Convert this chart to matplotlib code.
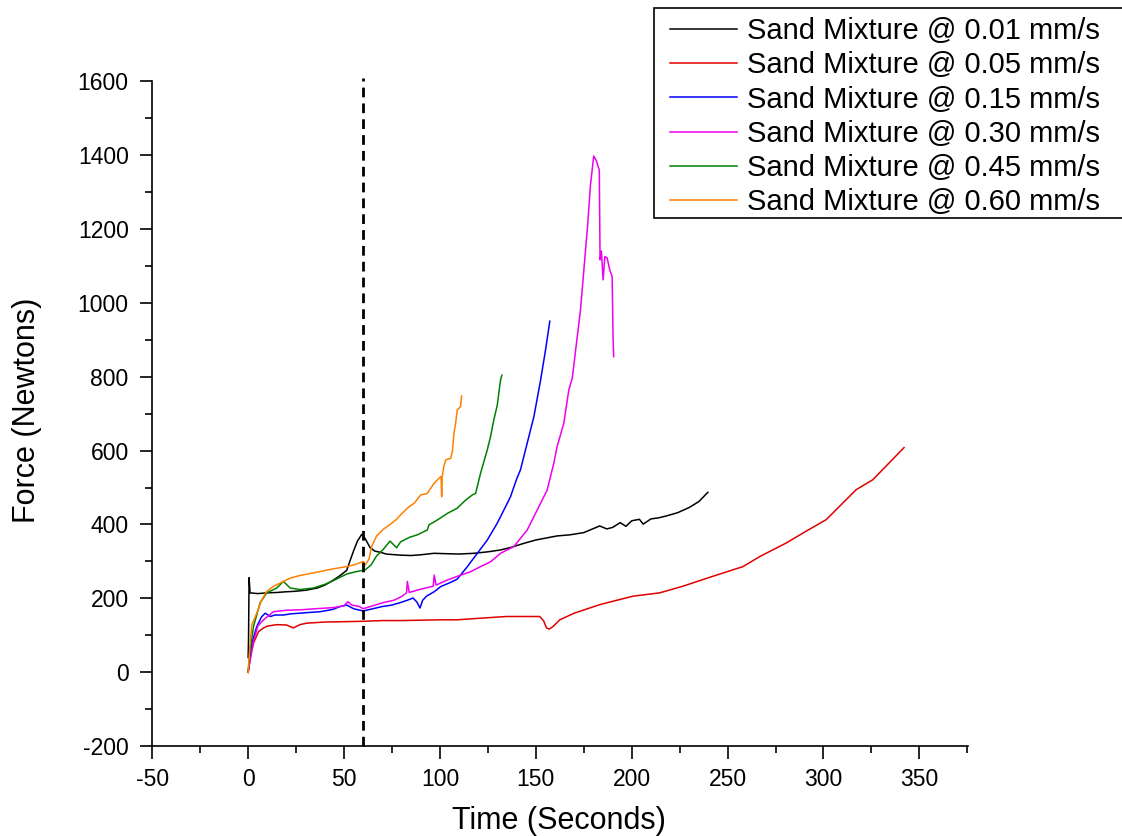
import matplotlib
matplotlib.use("Agg")
import matplotlib.pyplot as plt
from matplotlib.ticker import MultipleLocator
from matplotlib.patches import Rectangle

plt.rcParams['font.family'] = ['Liberation Sans', 'DejaVu Sans']
plt.rcParams['axes.unicode_minus'] = False

labels = ["Sand Mixture @ 0.01 mm/s", "Sand Mixture @ 0.05 mm/s", "Sand Mixture @ 0.15 mm/s",
          "Sand Mixture @ 0.30 mm/s", "Sand Mixture @ 0.45 mm/s", "Sand Mixture @ 0.60 mm/s"]
colors = ['#000000', '#e00000', '#0000ff', '#ee00ee', '#008000', '#ff8000']

t_001 = [0, 0.2, 0.5, 1.0, 5, 10, 15, 20, 24, 30, 36, 40, 44, 48, 51.4, 53, 55, 57, 59.2, 61, 63.5, 66, 68.8, 72,
         79.5, 85, 90, 96.9, 103, 110, 117.7, 125, 131.6, 137, 143.8, 150, 155, 161.1, 167.8, 175, 183.3, 187, 190,
         194, 197, 200, 204, 206, 210, 214, 218, 224, 230, 235, 239.7]
f_001 = [40, 90, 256, 215, 213, 215, 216, 218, 219, 222, 228, 236, 248, 262, 276, 300, 329, 355, 373, 362, 338, 328,
         325, 320, 317, 316, 318, 322, 321, 320, 322, 326, 331, 338, 349, 358, 363, 369, 372, 378, 396, 388, 392, 405,
         395, 410, 414, 401, 415, 418, 423, 432, 446, 462, 487]

t_005 = [0, 1, 2.8, 5.4, 8, 10, 14.9, 20, 23.6, 27, 30.6, 40, 50, 60, 70, 80, 90, 100, 108.7, 120, 134.7, 145, 152,
         154, 155.6, 157, 159, 162.5, 170, 183.3, 190, 200.7, 214.6, 226.7, 242.4, 258, 266.7, 280.6, 291, 301.4,
         311.8, 317, 325.7, 336, 342]
f_005 = [0, 40, 79, 110, 120, 125, 129, 128, 120, 129, 133, 136, 137, 138, 140, 140, 141, 142, 142, 146, 151, 151, 151,
         140, 120, 117, 124, 142, 160, 183, 192, 206, 215, 233, 260, 286, 313, 350, 382, 413, 467, 494, 521, 576, 608]

t_015 = [0, 2, 4.5, 7, 8.9, 11.5, 14, 18.4, 22, 27, 32, 37.5, 44, 48, 51.4, 55, 60, 65, 70, 75, 79, 83, 86, 88, 89.6,
         91, 93, 97, 100.4, 105, 109, 114.3, 119.5, 124.7, 129.5, 131.6, 136.8, 140, 142, 145.5, 149, 152.5, 155,
         157.3]
f_015 = [0, 80, 124, 150, 160, 151, 155, 155, 158, 160, 162, 164, 170, 178, 182, 172, 166, 172, 178, 182, 188, 195, 201,
         190, 174, 195, 206, 218, 232, 242, 252, 286, 322, 358, 400, 421, 475, 523, 548, 620, 692, 791, 870, 950]

t_030 = [0, 2.8, 5, 8, 13.2, 20, 27, 35, 44.4, 50, 52, 54, 58, 60, 65, 70, 76, 80, 82.6, 83, 84, 90, 96.5, 97, 98, 104,
         110.8, 115.9, 121.2, 126.4, 131.6, 138.5, 145.5, 150.7, 155.9, 159.4, 161.1, 164.6, 167.2, 169, 173.3,
         177.1, 178.5, 180.2, 181.5, 183.1, 183.5, 184.2, 185.1, 186, 187.2, 188.5, 189.5, 189.8, 190.3, 190.6]
f_030 = [0, 83, 125, 142, 164, 168, 169, 172, 175, 180, 191, 182, 178, 172, 180, 188, 195, 205, 215, 246, 216, 225, 233,
         263, 236, 250, 263, 272, 286, 299, 322, 340, 385, 439, 493, 566, 611, 674, 764, 796, 981, 1215, 1319, 1397,
         1385, 1359, 1116, 1140, 1062, 1125, 1121, 1090, 1075, 1071, 900, 854]

t_045 = [0, 1, 2.8, 6.25, 9.7, 14.9, 18.4, 21.9, 27, 34, 40, 44.4, 51.4, 56, 61, 64, 67, 70, 74, 77.4, 79.5, 84, 88.2,
         93.4, 94.3, 98.6, 103.9, 109, 113.4, 116.9, 118.6, 121.2, 124.7, 126.4, 128.1, 129.9, 131.6, 132.3]
f_045 = [0, 60, 124, 188, 215, 228, 246, 228, 224, 228, 238, 248, 266, 272, 277, 290, 315, 330, 355, 337, 353, 365,
         372, 385, 399, 412, 430, 444, 466, 480, 484, 539, 602, 638, 683, 723, 791, 804]

t_060 = [0, 1, 2, 4.5, 7, 9.7, 13, 18.4, 22, 27, 35, 44.4, 51.4, 56, 60, 61, 63, 64.4, 67, 70.5, 74, 77.4, 79.5, 83,
         84.4, 86.5, 90, 93.4, 96.9, 99.5, 100.6, 100.9, 101.2, 102, 103, 105.6, 106.5, 107.3, 108.2, 109, 110.8,
         111.3]
f_060 = [0, 80, 130, 160, 195, 219, 232, 246, 255, 262, 270, 280, 286, 292, 300, 290, 306, 340, 369, 387, 400, 414, 426,
         444, 450, 457, 480, 484, 511, 525, 530, 475, 530, 556, 575, 579, 597, 647, 674, 710, 719, 748]

series_t = [t_001, t_005, t_015, t_030, t_045, t_060]
series_f = [f_001, f_005, f_015, f_030, f_045, f_060]

marker_time = 60

W, H = 1122, 836
fig = plt.figure(figsize=(W / 100, H / 100), dpi=100)
ax = fig.add_axes([0.1357, 0.1074, 0.7273, 0.7957])

for t, f, c, lab in zip(series_t, series_f, colors, labels):
    ax.plot(t, f, color=c, lw=1.1, label=lab)

ax.axvline(marker_time, ymin=0, ymax=1.005, clip_on=False, color='black', lw=2.0, linestyle=(0, (3.5, 2.2)))

ax.set_xlim(-50, 375.5)
ax.set_ylim(-200, 1600)
ax.xaxis.set_major_locator(MultipleLocator(50))
ax.xaxis.set_minor_locator(MultipleLocator(25))
ax.yaxis.set_major_locator(MultipleLocator(200))
ax.yaxis.set_minor_locator(MultipleLocator(100))

for s in ['top', 'right']:
    ax.spines[s].set_visible(False)
for s in ['left', 'bottom']:
    ax.spines[s].set_linewidth(1.2)

ax.tick_params(which='major', direction='out', length=9, width=1.2, labelsize=16.5, pad=7)
ax.tick_params(which='minor', direction='out', length=4.8, width=1.2)
ax.tick_params(axis='y', which='major', pad=8)

ax.set_xlabel("Time (Seconds)", fontsize=22)
ax.set_ylabel("Force (Newtons)", fontsize=22)
ax.xaxis.set_label_coords(0.498, -0.09)
ax.yaxis.set_label_coords(-0.135, 0.505)

# legend frame (extends past the right edge of the figure, as in the reference)
frame = Rectangle((654 / W, 1 - 218.3 / H), (W + 20 - 654) / W, (218.3 - 8.3) / H, transform=fig.transFigure,
                  facecolor='white', edgecolor='black', lw=1.2, zorder=5)
fig.add_artist(frame)

fs = 21
fs_px = fs * 100 / 72
leg = fig.legend(loc='upper left', bbox_to_anchor=(670 / W, 1 - 17 / H), bbox_transform=fig.transFigure,
                 fontsize=fs, handlelength=66.7 / fs_px, handletextpad=10.6 / fs_px, borderpad=0,
                 labelspacing=0.215, borderaxespad=0, frameon=False)
leg.set_zorder(6)

fig.savefig("out.png", dpi=100)
